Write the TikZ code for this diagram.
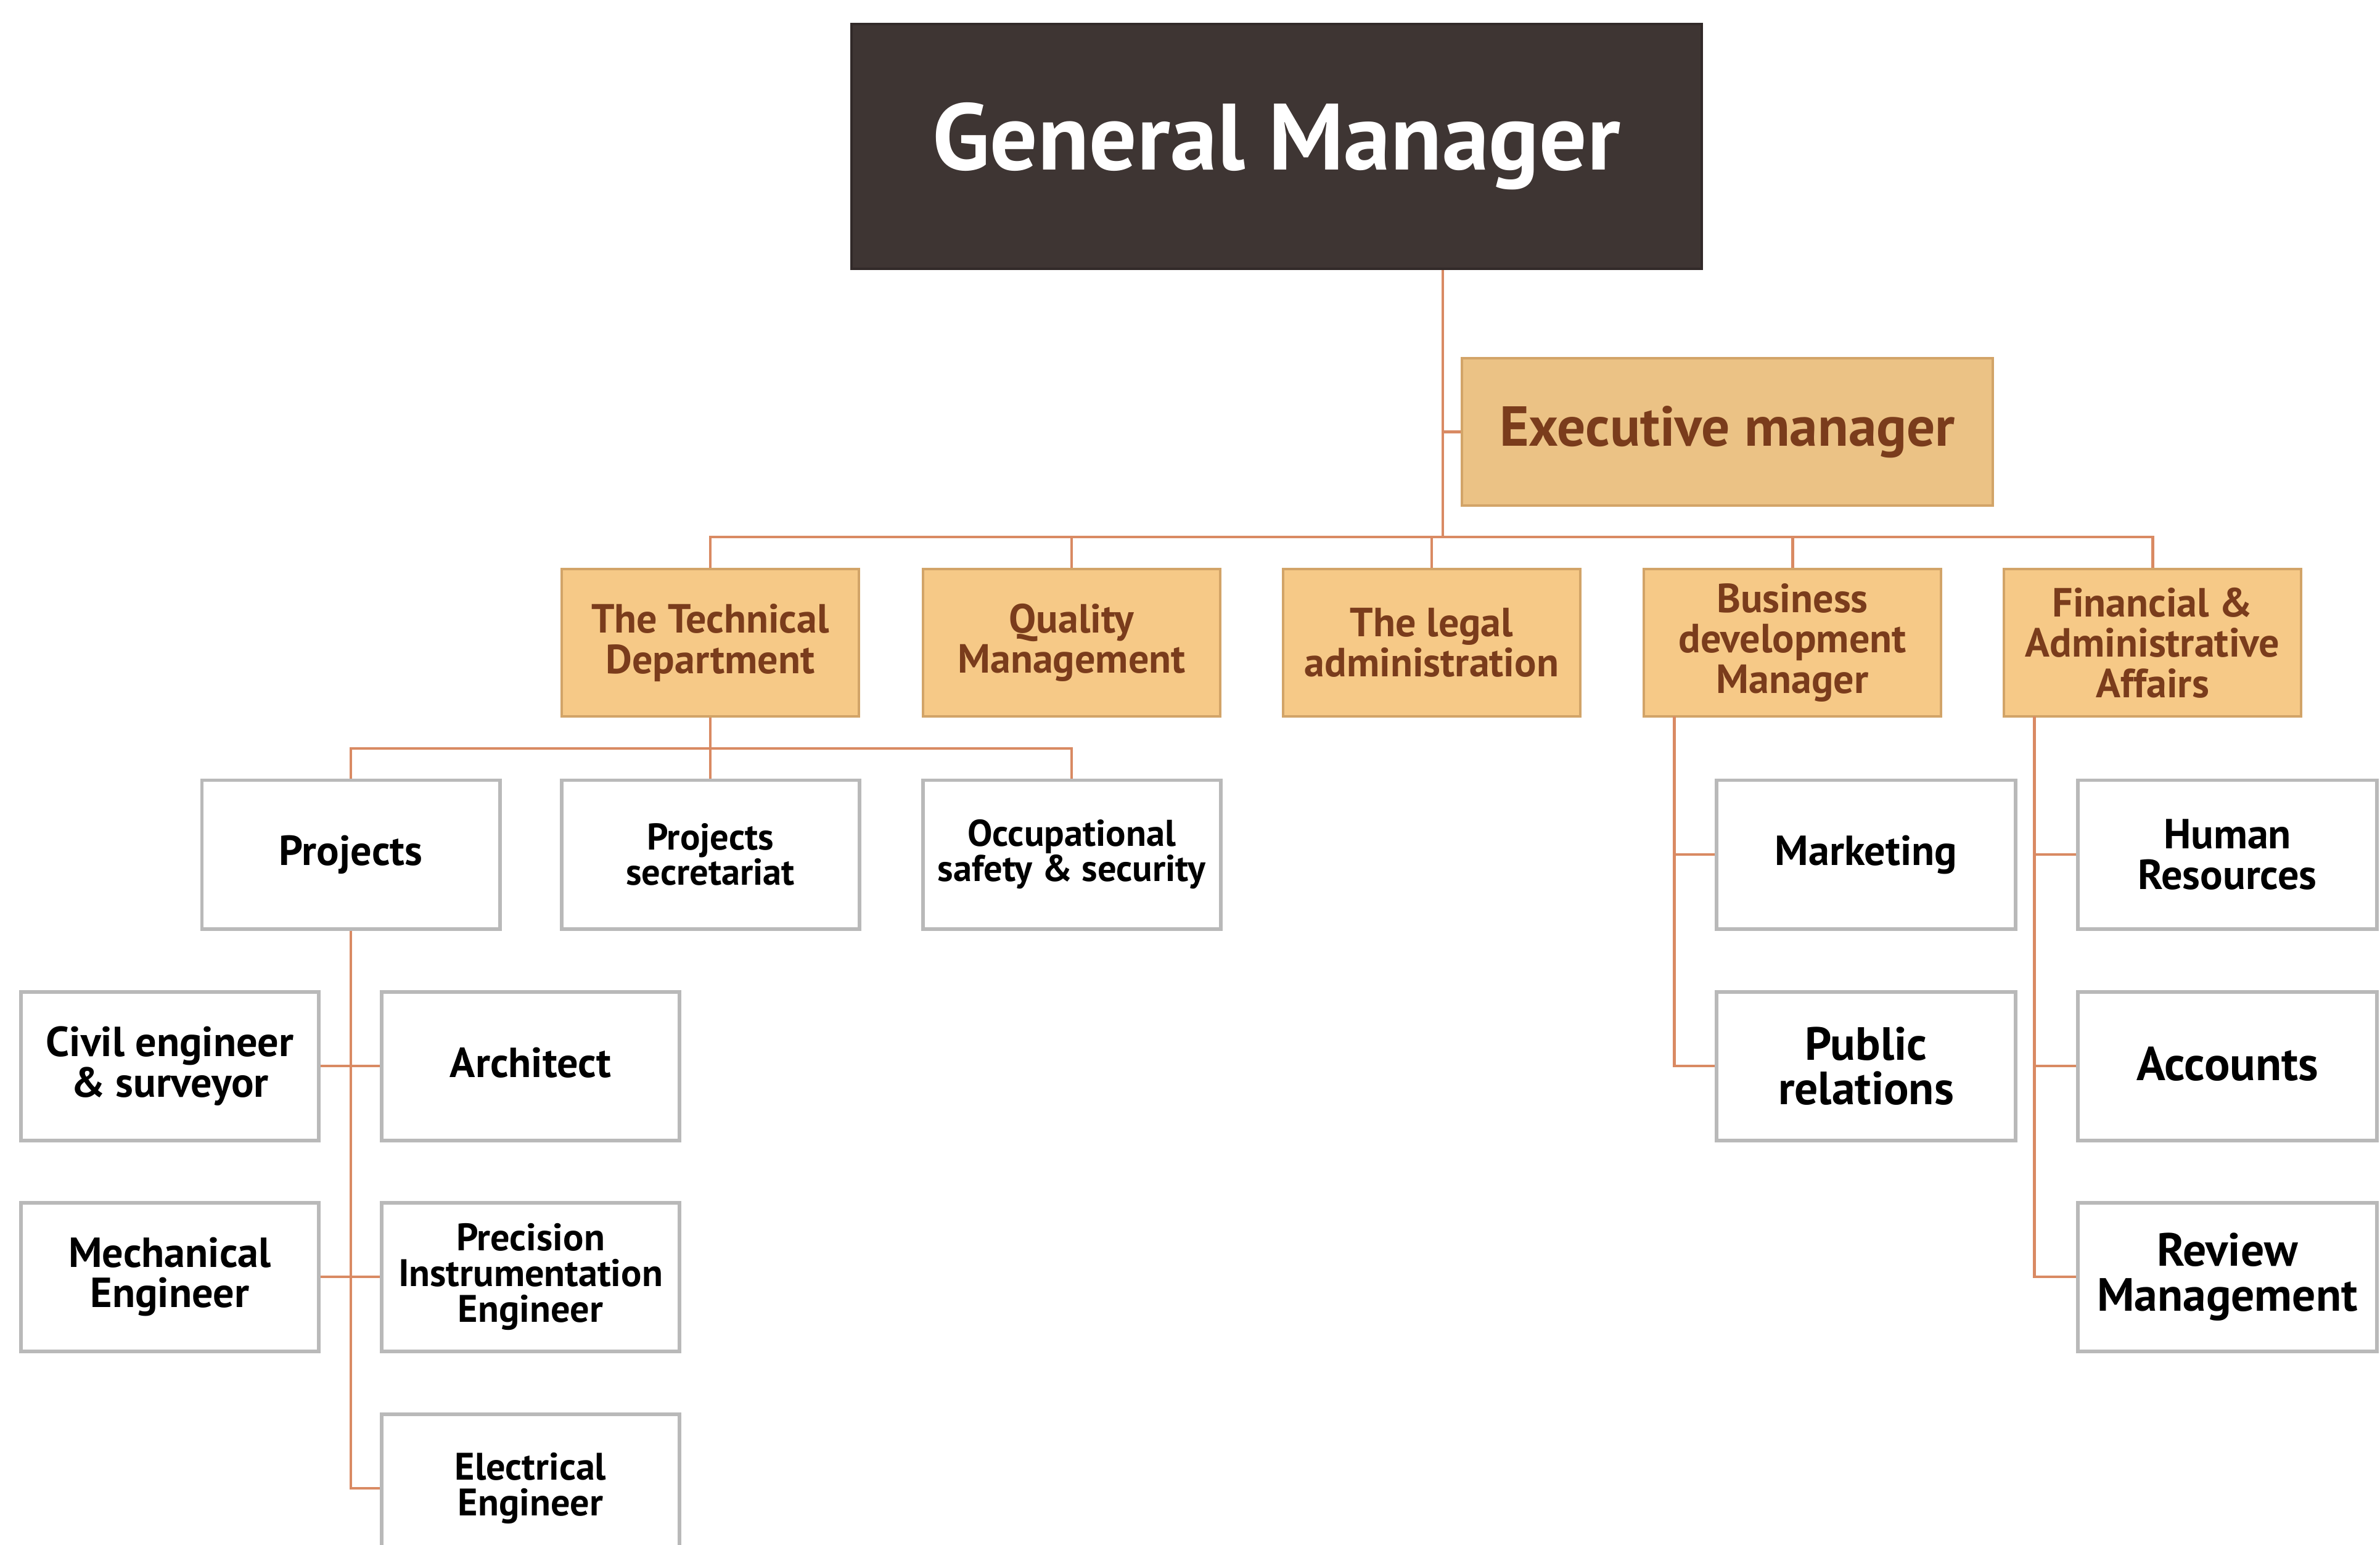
\documentclass[tikz,border=0pt]{standalone}
\usepackage{fontspec}
\setmainfont{PT Sans}
\definecolor{gmfill}{HTML}{3E3533}
\definecolor{execfill}{HTML}{EBC285}
\definecolor{deptfill}{HTML}{F6C987}
\definecolor{deptdraw}{HTML}{D2A468}
\definecolor{brtext}{HTML}{7A3C1C}
\definecolor{connc}{HTML}{D98A63}
\definecolor{boxdraw}{HTML}{B9B9B9}
\tikzset{
  conn/.style={draw=connc, line width=1.4pt},
  gmbox/.style={fill=gmfill, draw=gmfill!80!black, line width=1pt, minimum width=13.79cm, minimum height=3.97cm, text=white, font=\bfseries\fontsize{43.5}{48}\selectfont},
  execbox/.style={fill=execfill, draw=deptdraw, line width=1pt, minimum width=8.61cm, minimum height=2.39cm, text=brtext, font=\bfseries\fontsize{26}{30}\selectfont},
  deptbox/.style={fill=deptfill, draw=deptdraw, line width=1pt, minimum width=4.82cm, minimum height=2.39cm, text=brtext, align=center, inner sep=2pt, font=\bfseries\fontsize{18.8}{18.6}\selectfont},
  unitbox/.style={fill=white, draw=boxdraw, line width=1.7pt, minimum width=4.83cm, minimum height=2.41cm, text=black, align=center, inner sep=2pt, font=\bfseries\fontsize{19.4}{18.6}\selectfont},
  smallunit/.style={unitbox, font=\bfseries\fontsize{17.2}{16.2}\selectfont},
  bigunit/.style={unitbox, font=\bfseries\fontsize{21.5}{20.6}\selectfont},
}
\begin{document}
\begin{tikzpicture}
\useasboundingbox (0,0) rectangle (38.60,-25.06);
\clip (0,0) rectangle (38.60,-25.06);
\fill[white] (0,0) rectangle (38.60,-25.06);
% nodes
\node[gmbox] (gm) at (20.705,-2.375) {General Manager};
\node[execbox] (exec) at (28.015,-7.005) {Executive manager};
\node[deptbox] (tech) at (11.52,-10.425) {The Technical\\Department};
\node[deptbox] (qual) at (17.38,-10.425) {Quality\\Management};
\node[deptbox] (legal) at (23.22,-10.425) {The legal\\administration};
\node[deptbox] (busd) at (29.07,-10.425) {Business\\development\\Manager};
\node[deptbox] (fin) at (34.91,-10.425) {Financial \&\\Administrative\\Affairs};
\node[unitbox] (proj) at (5.69,-13.86) {Projects};
\node[smallunit] (sec) at (11.52,-13.86) {Projects\\secretariat};
\node[smallunit] (occ) at (17.38,-13.86) {Occupational\\safety \& security};
\node[unitbox] (civil) at (2.755,-17.29) {Civil engineer\\\& surveyor};
\node[unitbox] (arch) at (8.605,-17.29) {\raisebox{3.5pt}{Architect}};
\node[unitbox] (mech) at (2.755,-20.71) {Mechanical\\Engineer};
\node[smallunit, font=\bfseries\fontsize{17.7}{16.5}\selectfont] (prec) at (8.605,-20.71) {Precision\\Instrumentation\\Engineer};
\node[smallunit, font=\bfseries\fontsize{17.7}{16.5}\selectfont, minimum height=2.40cm] (elec) at (8.605,-24.14) {Electrical\\Engineer};
\node[unitbox, minimum width=4.85cm] (mkt) at (30.265,-13.86) {\raisebox{2pt}{Marketing}};
\node[bigunit, minimum width=4.85cm] (pr) at (30.265,-17.29) {Public\\relations};
\node[unitbox, minimum width=4.85cm] (hr) at (36.125,-13.86) {Human\\Resources};
\node[bigunit, minimum width=4.85cm, font=\bfseries\fontsize{22}{20.6}\selectfont] (acc) at (36.125,-17.29) {\raisebox{2pt}{Accounts}};
\node[bigunit, minimum width=4.85cm] (rev) at (36.125,-20.71) {Review\\Management};
% connectors
\coordinate (bus) at (23.40,-8.71);
\draw[conn] (gm.south -| bus) -- (bus);
\draw[conn] (exec.west) -- (exec.west -| bus);
\draw[conn] (tech.north) |- (bus) -| (fin.north);
\draw[conn] (qual.north) -- (qual.north |- bus);
\draw[conn] (legal.north) -- (legal.north |- bus);
\draw[conn] (busd.north) -- (busd.north |- bus);
\coordinate (tbus) at (11.52,-12.14);
\draw[conn] (proj.north) |- (tbus) -| (occ.north);
\draw[conn] (tech.south) -- (sec.north);
\draw[conn] (proj.south) |- (elec.west);
\draw[conn] (civil.east) -- (arch.west);
\draw[conn] (mech.east) -- (prec.west);
\coordinate (bdt) at (27.15,-11.62);
\draw[conn] (bdt) |- (pr.west);
\draw[conn] (mkt.west) -- (mkt.west -| bdt);
\coordinate (fat) at (32.99,-11.62);
\draw[conn] (fat) |- (rev.west);
\draw[conn] (hr.west) -- (hr.west -| fat);
\draw[conn] (acc.west) -- (acc.west -| fat);
\end{tikzpicture}
\end{document}
